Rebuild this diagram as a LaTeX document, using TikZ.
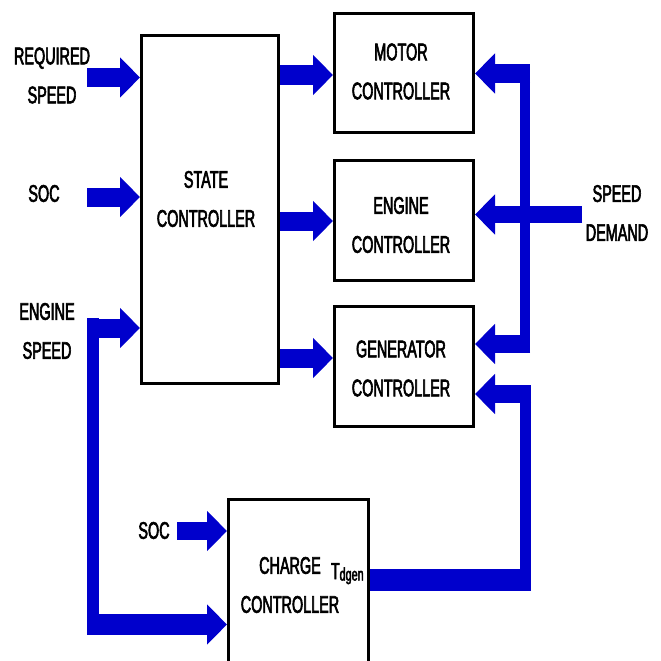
\documentclass[tikz,border=0pt]{standalone}
\usepackage{fontspec}
\setmainfont{Liberation Sans}[FakeStretch=0.6,FakeBold=2.5]
\usetikzlibrary{arrows.meta,calc}
\definecolor{flow}{RGB}{0,0,204}
\begin{document}
\begin{tikzpicture}[x=1pt,y=-1pt,
  box/.style={draw=black, line width=3pt, fill=white, inner sep=0pt},
  lbl/.style={font=\fontsize{24}{39}\selectfont, align=center, inner sep=0pt},
  flowline/.style={draw=flow, line width=19pt, line join=miter},
  flowarrow/.style={flowline, -{Triangle[length=20pt,width=39pt]}},
  vbar/.style={fill=flow}]
\path[use as bounding box] (0,0) rectangle (661,661);
\clip (0,0) rectangle (661,661);

% boxes
\node[box, minimum width=137pt, minimum height=348pt] (state) at (210,209.5) {};
\node[box, minimum width=139pt, minimum height=119pt] (motor) at (404,73) {};
\node[box, minimum width=139pt, minimum height=120pt] (engine) at (404,220.5) {};
\node[box, minimum width=139pt, minimum height=120pt] (gen) at (404,366.5) {};
\node[box, minimum width=140pt, minimum height=219pt] (charge) at (298.5,609) {};

% box texts
\node[lbl] (stateT) at (206,199) {STATE\\CONTROLLER};
\node[lbl] (motorT) at (401,71.5) {MOTOR\\CONTROLLER};
\node[lbl] (engineT) at (401,225) {ENGINE\\CONTROLLER};
\node[lbl] (genT) at (401,368.5) {GENERATOR\\CONTROLLER};
\node[lbl] (chargeT) at (290,585) {CHARGE\\CONTROLLER};
\node[anchor=base west, inner sep=0pt] (tdgen) at (331,579)
  {\fontsize{23}{23}\selectfont T\fontsize{18}{18}\selectfont\raisebox{-1.5pt}{dgen}};

% outside labels
\node[lbl] (reqT) at (52,75.5) {REQUIRED\\SPEED};
\node[lbl] (socT) at (44,193.5) {SOC};
\node[lbl] (engspT) at (47,331) {ENGINE\\SPEED};
\node[lbl] (soc2T) at (154,530.5) {SOC};
\node[lbl] (sdT) at (617,213) {SPEED\\DEMAND};

% coordinates
\coordinate (reqIn) at (87,77.5);
\coordinate (socIn) at (87,197);
\coordinate (soc2In) at (177,531);
\coordinate (esTop) at (87,328);
\coordinate (esBot) at (87,624.5);
\coordinate (sdIn) at (582,214.5);
\coordinate (sdTop) at (530,73.5);
\coordinate (sdBot) at (530,344);
\coordinate (tdOut) at (531,580);
\coordinate (tdTop) at (531,394);

% inputs to state controller
\draw[flowarrow] (reqIn) -- (reqIn -| state.west);
\draw[flowarrow] (socIn) -- (socIn -| state.west);
\fill[vbar] (87,318) rectangle (99,635);
\draw[flowarrow] (esTop) -- (esTop -| state.west);
\draw[flowarrow, line width=21pt] (esBot) -- (esBot -| charge.west);
\draw[flowarrow, line width=18pt] (soc2In) -- (soc2In -| charge.west);

% state to controllers
\draw[flowarrow] (state.east |- motor.west) ++(0,2) coordinate (m1) -- (m1 -| motor.west);
\draw[flowarrow] (state.east |- engine.west) ++(0,0.5) coordinate (e1) -- (e1 -| engine.west);
\draw[flowarrow] (state.east |- gen.west) ++(0,-8.5) coordinate (g1) -- (g1 -| gen.west);

% speed demand
\fill[vbar] (520,64) rectangle (530,353);
\draw[flowarrow] (sdTop) -- (sdTop -| motor.east);
\draw[flowarrow, line width=17pt] (sdIn) -- (sdIn -| engine.east);
\draw[flowarrow, line width=18pt] (sdBot) -- (sdBot -| gen.east);

% Tdgen feedback
\draw[flowline, line width=22pt] (charge.east |- tdOut) -- (tdOut);
\fill[vbar] (520,385) rectangle (531,591);
\draw[flowarrow, line width=18pt] (tdTop) -- (tdTop -| gen.east);
\end{tikzpicture}
\end{document}
